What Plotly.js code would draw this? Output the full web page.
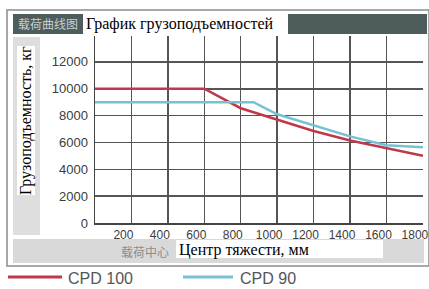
<!DOCTYPE html>
<html>
<head>
<meta charset="utf-8">
<script src="https://cdn.plot.ly/plotly-3.0.1.min.js"></script>
<style>html,body{margin:0;padding:0;background:#fff;}#chart{width:429px;height:289px;}</style>
</head>
<body>
<div id="chart"></div>
<script>
// ---- data ----
const chartTitle = "График грузоподъемностей";
const yTitle = "Грузоподъемность, кг";
const xTitle = "Центр тяжести, мм";
const headerText = "载荷曲线图";
const bandText = "载荷中心";
const xTickVals = [200, 400, 600, 800, 1000, 1200, 1400, 1600, 1800];
const xTickText = ["200", "400", "600", "800", "1000", "1200", "1400", "1600", "1800"];
const yTickVals = [0, 2000, 4000, 6000, 8000, 10000, 12000];
const yTickText = ["0", "2000", "4000", "6000", "8000", "10000", "12000"];
const seriesNames = ["CPD 100", "CPD 90"];
const cpd100X = [0, 600, 800, 1000, 1200, 1400, 1600, 1800];
const cpd100Y = [10000, 10000, 8550, 7700, 6850, 6150, 5550, 5000];
const cpd90X = [0, 870, 1000, 1200, 1400, 1600, 1800];
const cpd90Y = [9000, 9000, 8100, 7250, 6450, 5800, 5650];

// ---- layout helpers (pixel -> paper) ----
const L = 95, R = 423, T = 36, B = 223;
const px = x => (x - L) / (R - L);
const py = y => (B - y) / (B - T);
const colors = ["#c0394a", "#74c2d4"];

const traces = [
  {x: cpd100X, y: cpd100Y, name: seriesNames[0], mode: "lines", line: {color: colors[0], width: 2.5}},
  {x: cpd90X, y: cpd90Y, name: seriesNames[1], mode: "lines", line: {color: colors[1], width: 2.5}}
];

function rect(x0, y0, x1, y1, fill, line) {
  return {type: "rect", xref: "paper", yref: "paper", layer: "below",
    x0: px(x0), x1: px(x1), y0: py(y1), y1: py(y0),
    fillcolor: fill, line: line || {width: 0}};
}
function hline(x0, x1, y, color) {
  return {type: "line", xref: "paper", yref: "paper", layer: "above",
    x0: px(x0), x1: px(x1), y0: py(y), y1: py(y), line: {color: color, width: 3}};
}

const shapes = [
  rect(7, 10, 429, 266, "#ffffff", {color: "#8c8c8c", width: 1.5}),
  rect(13, 14, 427, 34, "#4e5c5c"),
  rect(13, 37, 40, 235, "#dedede"),
  rect(13, 239, 424, 263, "#d9d9d9"),
  rect(83, 14, 288, 34, "#ffffff"),
  rect(17, 46, 35, 195, "#ffffff"),
  rect(176, 240, 383, 258, "#ffffff"),
  hline(8, 62, 277, colors[0]),
  hline(183, 233, 277, colors[1])
];

const serif = "Liberation Serif, Times New Roman, serif";
const sans = "Liberation Sans, Arial, sans-serif";
const annotations = [
  {text: chartTitle, xref: "paper", yref: "paper", x: px(84), y: py(24), xanchor: "left", yanchor: "middle",
   showarrow: false, font: {family: serif, size: 16, color: "#000"}},
  {text: yTitle, xref: "paper", yref: "paper", x: px(26), y: py(121), xanchor: "center", yanchor: "middle",
   textangle: -90, showarrow: false, font: {family: serif, size: 16, color: "#000"}},
  {text: xTitle, xref: "paper", yref: "paper", x: px(177), y: py(250.5), xanchor: "left", yanchor: "middle",
   showarrow: false, font: {family: serif, size: 16, color: "#000"}},
  {text: headerText, xref: "paper", yref: "paper", x: px(16), y: py(24), xanchor: "left", yanchor: "middle",
   showarrow: false, font: {family: "Noto Sans CJK SC", size: 12, color: "#c5cfcf"}},
  {text: bandText, xref: "paper", yref: "paper", x: px(119), y: py(251), xanchor: "left", yanchor: "middle",
   showarrow: false, font: {family: "Noto Sans CJK SC", size: 12, color: "#8c8c8c"}},
  {text: seriesNames[0], xref: "paper", yref: "paper", x: px(66), y: py(278), xanchor: "left", yanchor: "middle",
   showarrow: false, font: {family: sans, size: 16, color: "#555"}},
  {text: seriesNames[1], xref: "paper", yref: "paper", x: px(238), y: py(278), xanchor: "left", yanchor: "middle",
   showarrow: false, font: {family: sans, size: 16, color: "#555"}}
];

const layout = {
  width: 429, height: 289,
  margin: {l: L, r: 429 - R, t: T, b: 289 - B, pad: 0},
  paper_bgcolor: "rgba(0,0,0,0)", plot_bgcolor: "#ffffff",
  showlegend: false,
  xaxis: {range: [0, 1800.5], tickvals: xTickVals, ticktext: xTickText, showgrid: true,
    gridcolor: "#555", gridwidth: 1.5, showline: true, linecolor: "#444", linewidth: 1.5,
    zeroline: false, ticks: "", ticklabelshift: -8, ticklabelstandoff: 0, ticklabeloverflow: "allow",
    tickfont: {family: sans, size: 12, color: "#3c3c3c"}, fixedrange: true},
  yaxis: {range: [0, 13930], tickvals: yTickVals, ticktext: yTickText, showgrid: true,
    gridcolor: "#555", gridwidth: 1.5, showline: true, linecolor: "#444", linewidth: 1.5,
    zeroline: false, ticks: "", ticklabelstandoff: 3,
    tickfont: {family: sans, size: 13, color: "#3c3c3c"}, fixedrange: true},
  shapes: shapes,
  annotations: annotations
};

Plotly.newPlot("chart", traces, layout, {staticPlot: true, displayModeBar: false});
</script>
</body>
</html>
